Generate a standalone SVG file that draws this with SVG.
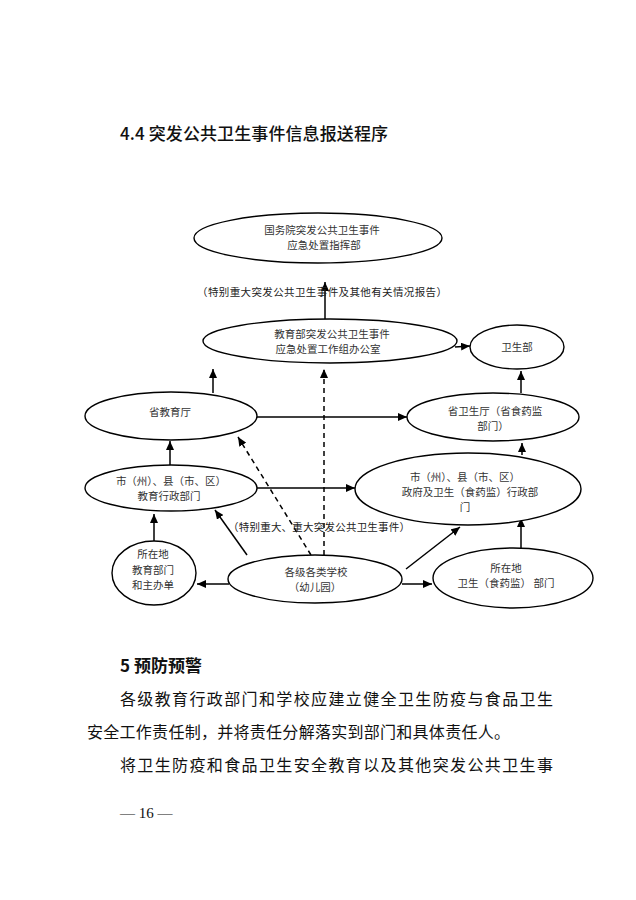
<svg xmlns="http://www.w3.org/2000/svg" width="636" height="900" viewBox="0 0 636 900">
<defs>
<marker id="ah" markerUnits="userSpaceOnUse" markerWidth="10" markerHeight="8" refX="9" refY="4" orient="auto">
<path d="M0,0 L9,4 L0,8 z" fill="#000"/>
</marker>
<style>
.n{fill:#fff;stroke:#000;stroke-width:1.4}
.t{font-family:"Noto Sans CJK SC","Noto Sans",sans-serif;font-size:10.5px;fill:#333;text-anchor:middle}
.l{font-family:"Noto Sans CJK SC","Noto Sans",sans-serif;font-size:10.5px;fill:#222}
.c{stroke:#000;stroke-width:1.5;fill:none;marker-end:url(#ah)}
.d{stroke-dasharray:5,4}
.b{font-family:"Noto Sans CJK SC","Noto Sans",sans-serif;font-size:16px;fill:#111}
.h{font-family:"Noto Sans CJK SC","Noto Sans",sans-serif;font-size:17px;font-weight:500;fill:#111}
.hb{font-family:"Noto Sans CJK SC","Noto Sans",sans-serif;font-size:17px;font-weight:bold;fill:#111}
</style>
</defs>
<rect width="636" height="900" fill="#fff"/>
<text class="h" x="120" y="140" textLength="268" lengthAdjust="spacing">4.4 突发公共卫生事件信息报送程序</text>

<g id="connectors">
<line class="c" x1="325" y1="320" x2="325" y2="282"/>
<line class="c" x1="455" y1="347" x2="470" y2="346"/>
<line class="c" x1="213" y1="393" x2="213" y2="369"/>
<line class="c" x1="521" y1="393" x2="521" y2="371"/>
<line class="c" x1="257" y1="417" x2="407" y2="417"/>
<line class="c" x1="170" y1="465" x2="170" y2="441"/>
<line class="c" x1="522" y1="455" x2="522" y2="443"/>
<line class="c" x1="257" y1="488" x2="355" y2="488"/>
<line class="c" x1="154" y1="541" x2="154" y2="514"/>
<line class="c" x1="521" y1="548" x2="521" y2="518"/>
<line class="c" x1="247" y1="555" x2="215" y2="510"/>
<line class="c d" x1="311" y1="555" x2="238" y2="437"/>
<line class="c d" x1="324" y1="555" x2="324" y2="369"/>
<line class="c" x1="406" y1="569" x2="460" y2="527"/>
<line class="c" x1="229" y1="584" x2="197" y2="584"/>
<line class="c" x1="402" y1="584" x2="432" y2="584"/>
</g>

<g id="n1"><ellipse class="n" cx="318" cy="238" rx="124" ry="25"/>
<text class="t" x="322" y="234">国务院突发公共卫生事件</text>
<text class="t" x="324" y="249">应急处置指挥部</text></g>

<text class="l" x="197" y="296" textLength="250" lengthAdjust="spacing">（特别重大突发公共卫生事件及其他有关情况报告）</text>

<g id="n2"><ellipse class="n" cx="330" cy="341" rx="127" ry="22"/>
<text class="t" x="332" y="338">教育部突发公共卫生事件</text>
<text class="t" x="328" y="353">应急处置工作组办公室</text></g>

<g id="n3"><ellipse class="n" cx="517" cy="347" rx="47" ry="22"/>
<text class="t" x="517" y="351">卫生部</text></g>

<g id="n4"><ellipse class="n" cx="171" cy="416" rx="86" ry="24"/>
<text class="t" x="170" y="416">省教育厅</text></g>

<g id="n5"><ellipse class="n" cx="493" cy="417" rx="86" ry="24"/>
<text class="t" x="495" y="415">省卫生厅（省食药监</text>
<text class="t" x="493" y="430">部门）</text></g>

<g id="n6"><ellipse class="n" cx="171" cy="488" rx="86" ry="23"/>
<text class="t" x="171" y="485">市（州）、县（市、区）</text>
<text class="t" x="169" y="500">教育行政部门</text></g>

<g id="n7"><ellipse class="n" cx="468" cy="489" rx="113" ry="36"/>
<text class="t" x="465" y="481">市（州）、县（市、区）</text>
<text class="t" x="470" y="496">政府及卫生（食药监）行政部</text>
<text class="t" x="465" y="511">门</text></g>

<text class="l" x="228" y="531" textLength="182" lengthAdjust="spacing">（特别重大、重大突发公共卫生事件）</text>

<g id="n8"><ellipse class="n" cx="154" cy="573" rx="42" ry="32"/>
<text class="t" x="153" y="558">所在地</text>
<text class="t" x="153" y="574">教育部门</text>
<text class="t" x="153" y="589">和主办单</text></g>

<g id="n9"><ellipse class="n" cx="315" cy="579" rx="87" ry="24"/>
<text class="t" x="316" y="576">各级各类学校</text>
<text class="t" x="315" y="591">（幼儿园）</text></g>

<g id="n10"><ellipse class="n" cx="513" cy="578" rx="80" ry="30"/>
<text class="t" x="506" y="572">所在地</text>
<text class="t" x="506" y="587">卫生（食药监） 部门</text></g>

<text class="hb" x="120" y="672">5  预防预警</text>
<text class="b" x="120" y="705" textLength="433" lengthAdjust="spacing">各级教育行政部门和学校应建立健全卫生防疫与食品卫生</text>
<text class="b" x="87" y="738" textLength="423" lengthAdjust="spacing">安全工作责任制，并将责任分解落实到部门和具体责任人。</text>
<text class="b" x="120" y="771" textLength="433" lengthAdjust="spacing">将卫生防疫和食品卫生安全教育以及其他突发公共卫生事</text>
<text x="120" y="818" font-family="Liberation Serif,serif" font-size="15" fill="#111">— 16 —</text>
</svg>
